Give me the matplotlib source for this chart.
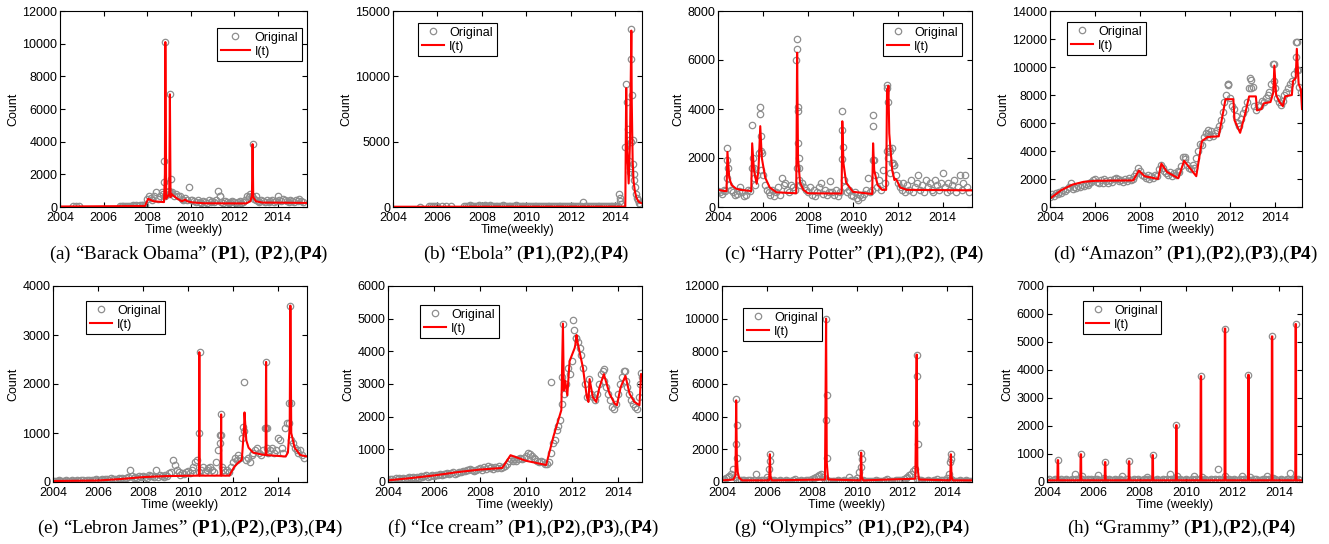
import numpy as np
import matplotlib
matplotlib.use('Agg')
import matplotlib.pyplot as plt
from matplotlib.lines import Line2D

plt.rcParams['font.family'] = ['Liberation Sans', 'DejaVu Sans']
plt.rcParams['mathtext.fontset'] = 'custom'
plt.rcParams['mathtext.rm'] = 'Liberation Serif'
plt.rcParams['mathtext.bf'] = 'Liberation Serif:bold'
plt.rcParams['path.simplify'] = False

GRAY = '#8e8e8e'
RED = '#ff0000'

#%% (a) Barack Obama
obama_t0 = 2006.75
obama_base = [60, 40, 80, 50, 70, 90, 60, 100, 80, 120, 90, 110, 150, 100, 130,
              500, 650, 550, 450, 700, 900, 500, 650, 900, 800,
              700, 900, 800, 850, 900, 700, 800, 650, 700, 500, 450, 550, 400, 1200,
              450, 400, 350, 300, 400, 300, 250, 350, 300, 250, 400, 300,
              350, 300, 400, 1000, 700, 300, 250, 350, 300, 250, 300, 350,
              300, 250, 300, 350, 250, 300, 400, 700, 600, 800, 700, 500,
              400, 350, 300, 400, 350, 300, 450, 300, 350, 400, 300, 350,
              650, 400, 350, 500, 400, 350, 300, 450, 350, 300, 400, 350,
              500, 350, 300]
obama_pk_t = [2004.6, 2004.75, 2004.88, 2008.78, 2008.8, 2008.83, 2009.03, 2009.05,
              2009.09, 2011.35, 2012.83, 2012.85, 2013.0]
obama_pk_v = [50, 40, 50, 1550, 2800, 10100, 1000, 6900, 1700, 700, 700, 3850, 700]
obama_it_t = [2004, 2007.9, 2007.95, 2008.05, 2008.3, 2008.78, 2008.82, 2008.84, 2008.88,
              2009.02, 2009.05, 2009.08, 2009.12, 2009.2, 2009.3, 2009.4, 2009.6, 2009.75,
              2009.85, 2010.1, 2010.6, 2012.55, 2012.75, 2012.82, 2012.85, 2012.88, 2013.0,
              2013.3, 2015.35]
obama_it_v = [30, 60, 200, 500, 350, 300, 2000, 10100, 500, 800, 6900, 600, 800, 700, 600,
              500, 350, 450, 350, 280, 230, 220, 350, 700, 3850, 600, 350, 270, 250]

#%% (b) Ebola
ebola_t0 = 2007.2
ebola_base = [80, 100, 60, 120, 90, 70, 110, 80, 130, 100, 90, 150,
              110, 80, 120, 90, 100, 70, 110, 90, 80, 120, 100, 90,
              80, 110, 90, 100, 120, 80, 90, 110, 70, 100, 90, 80,
              100, 80, 90, 70, 110, 90, 80, 100, 70, 90, 80, 100,
              70, 90, 80, 100, 70, 90, 60, 80, 90, 70, 80, 60,
              80, 70, 90, 60, 400, 80, 70, 60, 90, 70, 80, 60,
              70, 60, 80, 70, 60, 90, 70, 60, 80, 70, 60, 80]
ebola_pk_t = [2005.2, 2005.6, 2005.7, 2005.8, 2005.9, 2006.0, 2006.2, 2006.4, 2006.6,
              2014.16, 2014.19, 2014.22, 2014.27, 2014.43, 2014.49, 2014.54, 2014.57,
              2014.6, 2014.63, 2014.66, 2014.67, 2014.69, 2014.7, 2014.72, 2014.75,
              2014.78, 2014.79, 2014.82, 2014.85, 2014.88, 2014.91, 2014.96, 2015.0,
              2015.06, 2015.12]
ebola_pk_v = [30, 50, 40, 60, 50, 40, 50, 40, 40,
              1000, 700, 450, 250, 4600, 9400, 8000, 6000, 5100, 3500, 2700, 3000, 5000,
              11300, 13600, 8600, 5100, 3300, 2500, 2100, 1500, 1000, 700, 500, 300, 200]
ebola_it_t = [2004, 2014.45, 2014.47, 2014.49, 2014.52, 2014.6, 2014.66, 2014.72, 2014.74,
              2014.78, 2014.82, 2014.88, 2014.95, 2015.05, 2015.17]
ebola_it_v = [20, 30, 5000, 9100, 5000, 1800, 5000, 13500, 8000, 3500, 2000, 1200, 700, 400, 300]

#%% (c) Harry Potter
potter_t0 = 2004.0
potter_base = [650, 600, 550, 700, 650, 1200, 900, 700, 600, 500, 550, 650,
               800, 600, 450, 500, 700, 650, 1600, 1200, 900, 1300, 2200, 1500,
               1300, 900, 700, 600, 500, 700, 450, 600, 800, 500, 1200, 900,
               1000, 700, 600, 900, 800, 700, 1600, 1100, 900, 1000, 800, 700,
               600, 800, 500, 700, 450, 600, 800, 1000, 550, 700, 500, 600,
               1050, 600, 500, 700, 450, 600, 1950, 1100, 800, 600, 700, 500,
               450, 600, 350, 300, 500, 400, 550, 700, 1200, 600, 700, 1900,
               1300, 800, 1100, 700, 1500, 1000, 2300, 2000, 1400, 1800, 1700, 1300,
               1000, 800, 700, 1000, 600, 900, 700, 1100, 600, 800, 1000, 1300,
               700, 900, 600, 1100, 800, 1000, 700, 600, 1100, 900, 700, 1000,
               1400, 800, 600, 1000, 700, 900, 1100, 600, 800, 1300, 700, 1000,
               1300, 800, 600]
potter_pk_t = [2004.4, 2004.42, 2004.45, 2005.52, 2005.55, 2005.58, 2005.85, 2005.88,
               2005.9, 2005.93, 2005.96, 2007.47, 2007.5, 2007.52, 2007.54, 2007.56,
               2007.58, 2007.6, 2007.62, 2009.5, 2009.52, 2009.55, 2010.88, 2010.9,
               2010.93, 2011.5, 2011.53, 2011.56, 2011.6, 2011.65, 2011.75, 2011.8, 2011.85]
potter_pk_v = [2400, 1900, 1600, 3350, 2000, 1600, 4100, 3800, 2900, 2300, 2200, 6000,
               6850, 6450, 4100, 3900, 2600, 2000, 1600, 3900, 3150, 2450, 3750, 3300,
               1900, 4850, 5000, 4300, 2400, 2300, 2400, 1800, 1700]
potter_it_t = [2004, 2004.3, 2004.38, 2004.42, 2004.5, 2004.6, 2004.8, 2005.0, 2005.48,
               2005.52, 2005.6, 2005.72, 2005.8, 2005.88, 2005.95, 2006.1, 2006.3, 2006.6,
               2007.48, 2007.52, 2007.56, 2007.65, 2007.8, 2008.0, 2009.5, 2009.53, 2009.58,
               2009.7, 2010.0, 2010.86, 2010.9, 2010.95, 2011.1, 2011.3, 2011.48, 2011.52,
               2011.54, 2011.58, 2011.62, 2011.75, 2011.85, 2011.9, 2011.95, 2012.1, 2012.4,
               2015.3]
potter_it_v = [700, 650, 650, 2250, 1200, 900, 750, 700, 650, 2600, 1500, 950, 1500, 3300,
               2000, 1200, 800, 600, 560, 6300, 2000, 1000, 700, 560, 550, 3500, 1800, 1000,
               620, 530, 2600, 1500, 900, 700, 700, 4800, 4000, 4950, 3000, 1500, 1100,
               1150, 1100, 800, 700, 680]

#%% (d) Amazon
amazon_t0 = 2004.0
amazon_base = [700, 900, 800, 1000, 950, 1100, 1000, 1200, 1150, 1300, 1400, 1700,
               1300, 1400, 1350, 1500, 1450, 1600, 1500, 1650, 1600, 1700, 1800, 1900,
               2000, 1800, 1700, 1900, 1750, 2000, 1850, 1700, 1900, 1800, 2000, 2100,
               2000, 1850, 1900, 1800, 2000, 1850, 2100, 1950, 2000, 2200, 2400, 2800,
               2600, 2300, 2200, 2100, 2300, 2000, 2200, 2100, 2300, 2200, 2700, 3000,
               2800, 2600, 2400, 2300, 2500, 2200, 2400, 2300, 2600, 2500, 2900, 3600,
               3400, 3000, 2800, 2700, 3000, 2800, 3500, 4000, 4500, 4400, 5000, 5300,
               5200, 5000, 5400, 5100, 5300, 5500, 5800, 6200, 6800, 7500, 8000, 8800,
               7800, 7200, 7000, 6500, 6000, 5800, 6300, 6700, 7000, 7500, 8500, 9100,
               8600, 7200, 6900, 7300, 7200, 7600, 7500, 7800, 8000, 8200, 8800, 10200,
               8500, 7800, 7500, 7300, 7600, 8000, 8200, 8500, 8800, 9000, 9500, 11800,
               9800, 8600, 8200]
amazon_pk_t = [2010.0, 2011.0, 2011.9, 2011.93, 2012.9, 2012.93, 2013.95, 2013.97,
               2014.95, 2014.97, 2014.99]
amazon_pk_v = [3600, 5500, 8800, 8700, 9200, 8500, 9000, 10200, 10700, 11800, 9800]
amazon_it_t = [2004.0, 2004.5, 2005.0, 2005.5, 2006.0, 2007.7, 2007.95, 2008.2, 2008.8,
               2008.95, 2009.2, 2009.7, 2009.96, 2010.5, 2010.75, 2011.0, 2011.5, 2011.8,
               2012.15, 2012.2, 2012.45, 2012.65, 2012.85, 2013.15, 2013.2, 2013.4, 2013.5,
               2013.8, 2013.93, 2013.97, 2014.05, 2014.2, 2014.35, 2014.45, 2014.75,
               2014.8, 2014.92, 2014.97, 2015.05, 2015.15, 2015.2]
amazon_it_v = [600, 1200, 1600, 1800, 1870, 1900, 2600, 2200, 2000, 3100, 2500, 2050, 3300,
               2200, 4700, 5000, 5050, 7700, 7700, 6200, 5300, 6500, 7900, 7900, 6900, 7000,
               7400, 7500, 8200, 10100, 8000, 7500, 7200, 7900, 8000, 9000, 9200, 11300,
               8800, 8400, 7000]

#%% (e) Lebron James
lebron_t0 = 2004.0
lebron_base = [20, 30, 20, 40, 30, 20, 30, 40, 30, 20, 40, 30,
               30, 40, 30, 50, 40, 30, 50, 40, 30, 50, 40, 60,
               50, 40, 60, 50, 70, 60, 50, 80, 60, 70, 50, 80,
               70, 90, 60, 80, 100, 250, 120, 80, 100, 90, 120, 100,
               130, 110, 90, 150, 120, 130, 100, 250, 110, 140, 120, 100,
               150, 130, 180, 200, 450, 350, 250, 200, 150, 180, 160, 200,
               220, 180, 250, 300, 400, 450, 200, 250, 300, 200, 250, 280,
               300, 250, 200, 400, 650, 950, 300, 250, 200, 250, 200, 300,
               400, 500, 450, 550, 500, 900, 1050, 450, 500, 400, 550, 600,
               650, 700, 600, 550, 650, 1100, 700, 600, 650, 700, 600, 650,
               900, 850, 700, 600, 1100, 1200, 1620, 850, 800, 700, 650, 600,
               650, 550, 500]
lebron_pk_t = [2010.5, 2010.52, 2011.44, 2011.46, 2011.48, 2012.46, 2012.5, 2013.46,
               2013.48, 2013.5, 2014.5, 2014.56, 2014.58]
lebron_pk_v = [1000, 2650, 800, 950, 1380, 1120, 2050, 1100, 2450, 1100, 1200, 3600, 1620]
lebron_it_t = [2004, 2006, 2007, 2008, 2009, 2010.49, 2010.51, 2010.53, 2011.46, 2011.48,
               2011.5, 2011.85, 2012.05, 2012.25, 2012.4, 2012.5, 2012.52, 2012.6, 2012.7,
               2012.9, 2013.3, 2013.46, 2013.48, 2013.5, 2014.35, 2014.45, 2014.53, 2014.56,
               2014.6, 2014.75, 2015.0, 2015.3]
lebron_it_v = [20, 30, 60, 100, 120, 130, 2650, 130, 130, 1380, 130, 130, 300, 400, 450,
               1100, 1420, 850, 700, 600, 560, 550, 2450, 550, 520, 600, 1100, 3600, 1000,
               700, 550, 520]

#%% (f) Ice cream
icecream_t0 = 2004.0
icecream_base = [60, 80, 100, 70, 120, 90, 110, 80, 130, 100, 120, 150,
                 110, 140, 120, 160, 130, 180, 150, 170, 200, 160, 190, 220,
                 180, 210, 200, 240, 220, 260, 230, 280, 250, 270, 300, 260,
                 290, 320, 300, 350, 330, 380, 360, 400, 380, 350, 370, 400,
                 420, 380, 450, 400, 500, 430, 470, 400, 450, 420, 480, 440,
                 450, 500, 550, 650, 700, 650, 700, 650, 700, 750, 700, 750,
                 800, 900, 850, 800, 750, 700, 650, 600, 650, 600, 550, 560,
                 600, 900, 1200, 1300, 1600, 1700, 1900, 2400, 2700, 3000, 3500, 3300,
                 3700, 4650, 4400, 4300, 4100, 3900, 3500, 3000, 2600, 3150, 2700, 2600,
                 2500, 2700, 3000, 3300, 3400, 3100, 2900, 2700, 2500, 2300, 2250, 2400,
                 2700, 3000, 3200, 3400, 3100, 2900, 2700, 2500, 2400, 2300, 2250, 2600]
icecream_pk_t = [2011.1, 2011.58, 2011.61, 2012.04, 2012.19, 2013.39, 2014.33, 2014.98,
                 2015.01, 2015.03]
icecream_pk_v = [3050, 3200, 4850, 4950, 4400, 3450, 3400, 3000, 3350, 3200]
icecream_it_t = [2004, 2005, 2006, 2007, 2008, 2008.97, 2009.33, 2010.0, 2010.88, 2011.2,
                 2011.54, 2011.61, 2011.65, 2011.71, 2011.8, 2011.9, 2012.12, 2012.15,
                 2012.2, 2012.24, 2012.48, 2012.65, 2012.72, 2012.77, 2012.91, 2013.06,
                 2013.2, 2013.39, 2013.64, 2013.86, 2013.96, 2014.12, 2014.33, 2014.51,
                 2014.72, 2014.94, 2015.01]
icecream_it_v = [50, 120, 200, 300, 380, 430, 820, 650, 520, 1400, 2200, 4850, 2800, 3100,
                 2650, 3700, 4100, 4200, 4500, 4300, 3500, 2600, 2450, 3150, 2600, 2450, 2900,
                 3300, 2700, 2400, 2350, 2900, 3250, 2700, 2450, 2350, 3300]

#%% (g) Olympics
olympics_t0 = 2004.0
olympics_base = [150, 200, 250, 300, 350, 500, 800, 300, 150, 120, 100, 100,
                 100, 90, 100, 110, 90, 100, 500, 100, 90, 100, 110, 150,
                 300, 200, 100, 90, 100, 80, 90, 100, 80, 90, 100, 80,
                 90, 80, 100, 200, 90, 80, 100, 90, 80, 100, 120, 150,
                 200, 250, 300, 350, 400, 500, 300, 150, 100, 90, 80, 90,
                 80, 90, 100, 80, 90, 100, 80, 90, 300, 100, 120, 150,
                 250, 600, 150, 100, 90, 80, 90, 80, 90, 80, 100, 90,
                 80, 90, 80, 100, 200, 80, 90, 80, 90, 100, 110, 120,
                 150, 200, 250, 300, 400, 500, 700, 800, 200, 120, 100, 90,
                 80, 90, 100, 80, 90, 100, 80, 200, 90, 100, 120, 150,
                 250, 500, 200, 100, 90, 80, 90, 100, 80, 90, 100, 90,
                 80, 90]
olympics_pk_t = [2004.62, 2004.64, 2004.66, 2004.68, 2006.11, 2006.13, 2006.15, 2008.61,
                 2008.63, 2008.65, 2008.67, 2010.17, 2010.19, 2010.21, 2012.64, 2012.66,
                 2012.68, 2012.7, 2014.16, 2014.18, 2014.2]
olympics_pk_v = [2300, 5100, 3500, 1500, 800, 1700, 1300, 3800, 10000, 5300, 1500, 900,
                 1800, 1400, 3600, 7800, 6500, 2300, 1200, 1700, 1400]
olympics_it_t = [2004, 2004.5, 2004.6, 2004.63, 2004.66, 2004.7, 2004.76, 2004.9,
                 2006.1, 2006.13, 2006.16, 2006.22, 2008.58, 2008.63, 2008.66, 2008.72,
                 2010.16, 2010.19, 2010.22, 2010.28, 2012.6, 2012.66, 2012.69, 2012.76,
                 2014.15, 2014.18, 2014.21, 2014.27, 2015.1]
olympics_it_v = [100, 150, 400, 5000, 1500, 600, 250, 100,
                 100, 1700, 300, 100, 150, 10000, 1200, 150,
                 100, 1800, 300, 100, 200, 7800, 1000, 150,
                 100, 1700, 300, 100, 100]

#%% (h) Grammy
grammy_t0 = 2004.0
grammy_base = [60, 90, 50, 80, 110, 70, 60, 100, 50, 80, 90, 60,
               70, 100, 60, 90, 80, 50, 110, 70, 60, 90, 80, 100,
               60, 90, 120, 70, 80, 60, 100, 70, 90, 60, 80, 110,
               70, 60, 100, 80, 50, 90, 110, 60, 80, 100, 70, 90,
               60, 80, 110, 70, 90, 60, 100, 80, 70, 90, 60, 80,
               100, 70, 90, 60, 110, 80, 70, 100, 60, 90, 80, 70,
               90, 60, 80, 100, 70, 110, 60, 90, 80, 70, 100, 60,
               80, 90, 70, 110, 60, 100, 80, 70, 90, 60, 100, 80,
               70, 90, 60, 80, 110, 70, 90, 100, 60, 80, 70, 90,
               100, 60, 80, 70, 110, 90, 60, 100, 80, 70, 90, 60,
               80, 100, 70, 60, 90, 110, 80, 70, 100, 60, 90, 80]
grammy_pk_t = [2004.47, 2005.46, 2006.51, 2007.54, 2008.56, 2009.58, 2010.64, 2011.68,
               2012.69, 2013.71, 2014.73,
               2005.19, 2005.5, 2006.18, 2006.44, 2007.23, 2008.3, 2009.31, 2009.6,
               2010.36, 2010.67, 2011.39, 2011.68, 2012.42, 2012.75, 2013.47, 2013.76, 2014.5]
grammy_pk_v = [780, 990, 710, 740, 960, 2030, 3780, 5480, 3830, 5200, 5640,
               300, 200, 250, 150, 200, 170, 280, 200, 200, 180, 450, 200, 200, 180, 230,
               150, 330]
grammy_spikes = [2004.47, 2005.46, 2006.51, 2007.54, 2008.56, 2009.58, 2010.64, 2011.68,
                 2012.69, 2013.71, 2014.73]
grammy_spike_v = [780, 990, 710, 740, 960, 2030, 3780, 5480, 3830, 5200, 5640]

# I(t) del Grammy: base plana con picos angostos
grammy_it_t = [2004.0]
grammy_it_v = [60]
for s, h in zip(grammy_spikes, grammy_spike_v):
    grammy_it_t += [s - 0.02, s - 0.01, s + 0.01, s + 0.02]
    grammy_it_v += [60, h, h, 60]
grammy_it_t.append(2015.05)
grammy_it_v.append(60)

#%% Figura
fig = plt.figure(figsize=(13.29, 5.44), dpi=100)
W, H = 1329.0, 544.0


def rect(l, r, t, b):
    return [l / W, 1 - b / H, (r - l) / W, (b - t) / H]


def panel(box, t0, base, pk_t, pk_v, it_t, it_v, ymax, ystep, xmax, leg_xy,
          caption, cap_xy, xlabel='Time (weekly)', hlen=1.8):
    ax = fig.add_axes(box)
    tb = t0 + np.arange(len(base)) / 12.0
    t_all = np.concatenate([tb, pk_t])
    v_all = np.concatenate([base, pk_v])
    ax.plot(t_all, v_all, 'o', mfc='none', mec=GRAY, ms=4.6, mew=0.9)
    ax.plot(it_t, it_v, '-', color=RED, lw=1.5)
    ax.set_xlim(2004, xmax)
    ax.set_ylim(0, ymax)
    ax.set_xticks(np.arange(2004, 2015, 2))
    ax.set_yticks(np.arange(0, ymax + 1, ystep))
    ax.tick_params(direction='in', top=True, right=True, length=3.5, width=0.8,
                   labelsize=9)
    ax.tick_params(axis='x', pad=3.5)
    ax.tick_params(axis='y', pad=2)
    for sp in ax.spines.values():
        sp.set_linewidth(0.8)
    ax.set_ylabel('Count', fontsize=9, labelpad=2)
    ax.set_xlabel(xlabel, fontsize=9, labelpad=0)
    handles = [Line2D([], [], ls='none', marker='o', mfc='none', mec=GRAY, ms=4.6, mew=0.9),
               Line2D([], [], color=RED, lw=1.5)]
    leg = ax.legend(handles, ['Original', 'I(t)'], loc='upper left', bbox_to_anchor=leg_xy,
                    borderaxespad=0, fancybox=False, edgecolor='black', framealpha=1,
                    fontsize=9, handlelength=hlen, labelspacing=0.15, borderpad=0.3,
                    handletextpad=0.4)
    leg.get_frame().set_linewidth(0.8)
    fig.text(cap_xy[0] / W, 1 - cap_xy[1] / H, caption, ha='center', va='center',
             fontsize=13.8, family='Liberation Serif')
    return ax


panel(rect(60, 307, 11, 207), obama_t0, obama_base, obama_pk_t, obama_pk_v,
      obama_it_t, obama_it_v, 12000, 2000, 2015.35, (0.636, 0.913),
      r'(a) “Barack Obama” ($\mathbf{P1}$), ($\mathbf{P2}$),($\mathbf{P4}$)', (189, 254),
      hlen=2.3)
panel(rect(393, 642, 11, 207), ebola_t0, ebola_base, ebola_pk_t, ebola_pk_v,
      ebola_it_t, ebola_it_v, 15000, 5000, 2015.2, (0.10, 0.939),
      r'(b) “Ebola” ($\mathbf{P1}$),($\mathbf{P2}$),($\mathbf{P4}$)', (526, 254),
      xlabel='Time(weekly)')
panel(rect(718, 972, 11, 207), potter_t0, potter_base, potter_pk_t, potter_pk_v,
      potter_it_t, potter_it_v, 8000, 2000, 2015.3, (0.65, 0.939),
      r'(c) “Harry Potter” ($\mathbf{P1}$),($\mathbf{P2}$), ($\mathbf{P4}$)', (854, 254))
panel(rect(1050, 1302, 11, 207), amazon_t0, amazon_base, amazon_pk_t, amazon_pk_v,
      amazon_it_t, amazon_it_v, 14000, 2000, 2015.2, (0.067, 0.944),
      r'(d) “Amazon” ($\mathbf{P1}$),($\mathbf{P2}$),($\mathbf{P3}$),($\mathbf{P4}$)', (1186, 254))
panel(rect(53, 307, 286, 482), lebron_t0, lebron_base, lebron_pk_t, lebron_pk_v,
      lebron_it_t, lebron_it_v, 4000, 1000, 2015.3, (0.13, 0.923),
      r'(e) “Lebron James” ($\mathbf{P1}$),($\mathbf{P2}$),($\mathbf{P3}$),($\mathbf{P4}$)', (190, 528))
panel(rect(388, 642, 286, 482), icecream_t0, icecream_base, icecream_pk_t, icecream_pk_v,
      icecream_it_t, icecream_it_v, 6000, 1000, 2015.05, (0.126, 0.903),
      r'(f) “Ice cream” ($\mathbf{P1}$),($\mathbf{P2}$),($\mathbf{P3}$),($\mathbf{P4}$)', (523, 528))
panel(rect(722, 972, 286, 482), olympics_t0, olympics_base, olympics_pk_t, olympics_pk_v,
      olympics_it_t, olympics_it_v, 12000, 2000, 2015.12, (0.084, 0.888),
      r'(g) “Olympics” ($\mathbf{P1}$),($\mathbf{P2}$),($\mathbf{P4}$)', (852, 528))
panel(rect(1047, 1302, 286, 482), grammy_t0, grammy_base, grammy_pk_t, grammy_pk_v,
      grammy_it_t, grammy_it_v, 7000, 1000, 2015.0, (0.14, 0.923),
      r'(h) “Grammy” ($\mathbf{P1}$),($\mathbf{P2}$),($\mathbf{P4}$)', (1182, 528))

fig.savefig('out.png', dpi=100)
